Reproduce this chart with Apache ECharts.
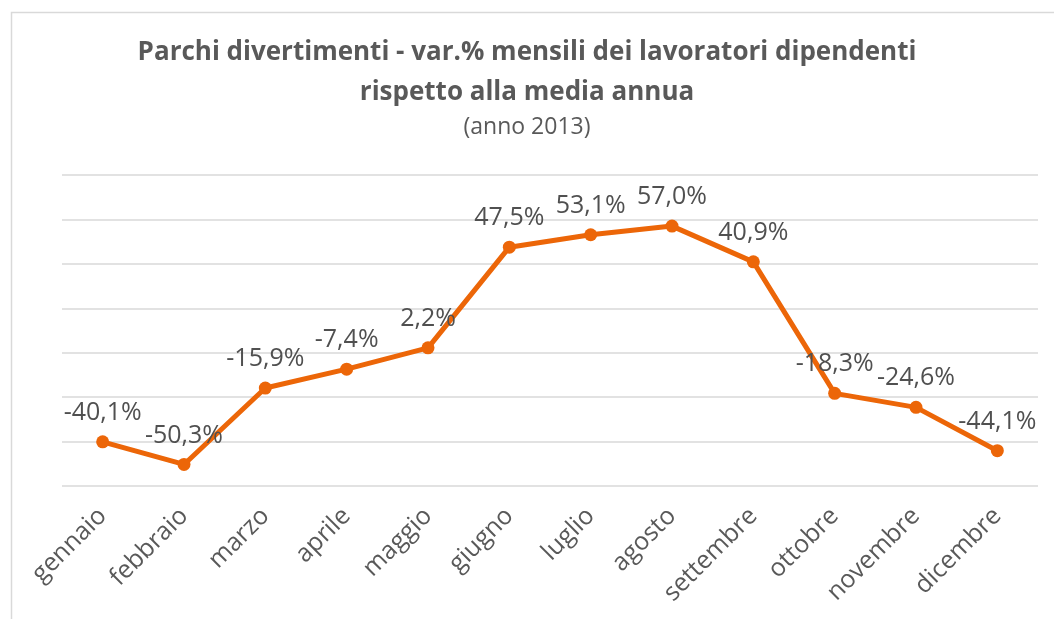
<!DOCTYPE html>
<html>
<head>
<meta charset="utf-8">
<script src="https://cdn.jsdelivr.net/npm/echarts@6/dist/echarts.min.js"></script>
<style>
  html, body { margin: 0; padding: 0; background: #fff; }
  #chart { width: 1054px; height: 619px; }
</style>
</head>
<body>
<div id="chart"></div>
<script>
// Monthly variation of employees vs. the yearly average (amusement parks, 2013)
const months = ['gennaio', 'febbraio', 'marzo', 'aprile', 'maggio', 'giugno',
                'luglio', 'agosto', 'settembre', 'ottobre', 'novembre', 'dicembre'];
const variation = [-40.1, -50.3, -15.9, -7.4, 2.2, 47.5, 53.1, 57.0, 40.9, -18.3, -24.6, -44.1];

const titleText = 'Parchi divertimenti - var.% mensili dei lavoratori dipendenti\nrispetto alla media annua';
const subtitleText = '(anno 2013)';

const chart = echarts.init(document.getElementById('chart'), null, { renderer: 'canvas' });

chart.setOption({
  backgroundColor: '#ffffff',
  animation: false,
  graphic: [{
    type: 'rect',
    left: 9, top: 10,
    shape: { width: 1200, height: 800 },
    style: { fill: 'none', stroke: '#d9d9d9', lineWidth: 1.5 },
    silent: true
  }],
  title: {
    text: titleText,
    subtext: subtitleText,
    left: 'center',
    top: 28,
    itemGap: 3,
    textStyle: {
      fontFamily: '"Open Sans", sans-serif',
      fontWeight: 'bold',
      fontSize: 26,
      color: '#595959',
      lineHeight: 40
    },
    subtextStyle: {
      fontFamily: '"Open Sans", sans-serif',
      fontSize: 23,
      color: '#595959'
    }
  },
  grid: { left: 62, right: 16, top: 175, bottom: 133 },
  xAxis: {
    type: 'category',
    data: months,
    boundaryGap: true,
    axisLine: { show: false },
    axisTick: { show: false },
    axisLabel: {
      rotate: 45,
      margin: 26,
      fontFamily: '"Open Sans", sans-serif',
      fontSize: 25,
      color: '#595959'
    }
  },
  yAxis: {
    type: 'value',
    min: -60,
    max: 80,
    interval: 20,
    axisLine: { show: false },
    axisTick: { show: false },
    axisLabel: { show: false },
    splitLine: { lineStyle: { color: '#d9d9d9', width: 1.5 } }
  },
  series: [{
    type: 'line',
    data: variation,
    symbol: 'circle',
    symbolSize: 13,
    lineStyle: { color: '#ec6608', width: 5 },
    itemStyle: { color: '#ec6608' },
    label: {
      show: true,
      position: 'top',
      distance: 10,
      fontFamily: '"Open Sans", sans-serif',
      fontSize: 25,
      color: '#505050',
      formatter: p => p.value.toFixed(1).replace('.', ',') + '%'
    }
  }]
});
</script>
</body>
</html>
